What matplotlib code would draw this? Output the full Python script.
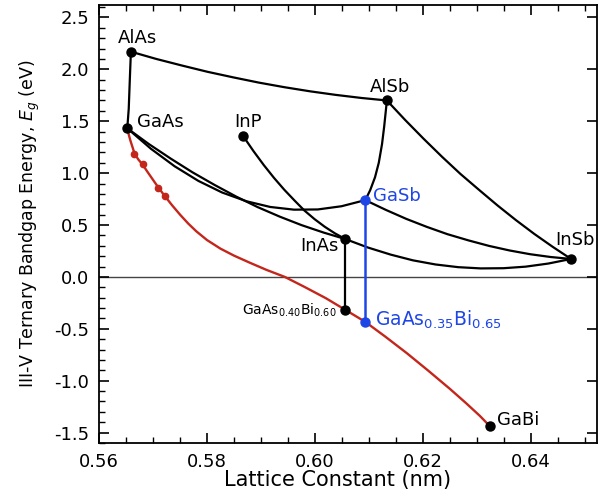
import matplotlib
matplotlib.use('Agg')
import matplotlib.pyplot as plt
from matplotlib.ticker import MultipleLocator, FormatStrFormatter

plt.rcParams['font.family'] = ['DejaVu Sans']
plt.rcParams['mathtext.fontset'] = 'dejavusans'
plt.rcParams['axes.unicode_minus'] = False

# ---- compound end points (lattice constant nm, bandgap eV) ----
black_names = ['AlAs', 'GaAs', 'AlSb', 'InP', 'InAs', 'InSb', 'GaAs040Bi060', 'GaBi']
black_a = [0.5659, 0.5652, 0.6133, 0.5867, 0.6056, 0.6474, 0.6056, 0.6324]
black_e = [2.170, 1.433, 1.700, 1.356, 0.365, 0.173, -0.317, -1.440]

blue_names = ['GaSb', 'GaAs035Bi065']
blue_a = [0.6093, 0.6093]
blue_e = [0.740, -0.433]

# ---- ternary curves ----
alas_gaas_a = [0.5659, 0.5657, 0.5655, 0.5653, 0.5652]
alas_gaas_e = [2.170, 1.900, 1.620, 1.480, 1.433]

alas_alsb_a = [0.5659, 0.5706, 0.5754, 0.5801, 0.5849, 0.5896, 0.5943, 0.5991, 0.6038, 0.6086, 0.6133]
alas_alsb_e = [2.170, 2.100, 2.036, 1.976, 1.922, 1.872, 1.828, 1.788, 1.754, 1.724, 1.700]

alsb_gasb_a = [0.6133, 0.6131, 0.6128, 0.6124, 0.6118, 0.6111, 0.6102, 0.6093]
alsb_gasb_e = [1.700, 1.600, 1.450, 1.280, 1.100, 0.960, 0.835, 0.740]

alsb_insb_a = [0.6133, 0.6167, 0.6201, 0.6235, 0.6269, 0.6304, 0.6338, 0.6372, 0.6406, 0.6440, 0.6474]
alsb_insb_e = [1.700, 1.511, 1.331, 1.158, 0.993, 0.837, 0.688, 0.547, 0.414, 0.290, 0.173]

gasb_insb_a = [0.6093, 0.6131, 0.6169, 0.6207, 0.6245, 0.6284, 0.6322, 0.6360, 0.6398, 0.6436, 0.6474]
gasb_insb_e = [0.740, 0.646, 0.559, 0.482, 0.412, 0.352, 0.299, 0.255, 0.219, 0.192, 0.173]

inas_insb_a = [0.6056, 0.6098, 0.6140, 0.6181, 0.6223, 0.6265, 0.6307, 0.6349, 0.6390, 0.6432, 0.6474]
inas_insb_e = [0.365, 0.283, 0.215, 0.160, 0.120, 0.094, 0.082, 0.084, 0.099, 0.129, 0.173]

gaas_inas_a = [0.5652, 0.5692, 0.5733, 0.5773, 0.5814, 0.5854, 0.5894, 0.5935, 0.5975, 0.6016, 0.6056]
gaas_inas_e = [1.433, 1.281, 1.139, 1.008, 0.886, 0.774, 0.672, 0.580, 0.499, 0.427, 0.365]

gaas_gasb_a = [0.5652, 0.5696, 0.5740, 0.5784, 0.5828, 0.5873, 0.5917, 0.5961, 0.6005, 0.6049, 0.6093]
gaas_gasb_e = [1.433, 1.235, 1.066, 0.925, 0.813, 0.729, 0.674, 0.648, 0.650, 0.681, 0.740]

inp_inas_a = [0.5867, 0.5886, 0.5905, 0.5924, 0.5943, 0.5962, 0.5980, 0.5999, 0.6018, 0.6037, 0.6056]
inp_inas_e = [1.356, 1.212, 1.078, 0.954, 0.840, 0.736, 0.641, 0.557, 0.483, 0.419, 0.365]

gaasbi_a = [0.5652, 0.5655, 0.5658, 0.5662, 0.5666, 0.5673, 0.5681, 0.5690, 0.5700, 0.5710,
            0.5722, 0.5735, 0.5750, 0.5765, 0.5780, 0.5800, 0.5825, 0.5850, 0.5880, 0.5910,
            0.5944, 0.5980, 0.6020, 0.6056, 0.6093, 0.6130, 0.6170, 0.6210, 0.6250, 0.6280,
            0.6305, 0.6324]
gaasbi_e = [1.433, 1.372, 1.315, 1.250, 1.185, 1.130, 1.080, 1.010, 0.935, 0.860,
            0.778, 0.692, 0.600, 0.515, 0.440, 0.355, 0.272, 0.205, 0.135, 0.068,
            0.000, -0.095, -0.205, -0.317, -0.433, -0.575, -0.735, -0.905, -1.080, -1.218,
            -1.338, -1.440]

gaasbi_dots_a = [0.56654, 0.56809, 0.57098, 0.57222]
gaasbi_dots_e = [1.189, 1.087, 0.859, 0.779]

# vertical connectors
inas_drop_a = [0.6056, 0.6056]
inas_drop_e = [0.365, -0.317]
gasb_drop_a = [0.6093, 0.6093]
gasb_drop_e = [0.740, -0.433]

xticks = [0.56, 0.58, 0.60, 0.62, 0.64]
yticks = [-1.5, -1.0, -0.5, 0.0, 0.5, 1.0, 1.5, 2.0, 2.5]

RED = '#c3261b'
BLUE = '#1e46e6'

fig = plt.figure(figsize=(5.98, 4.95), dpi=100)
ax = fig.add_axes([0.1656, 0.10505, 0.8327, 0.8849])

ax.axhline(0.0, color='#444444', lw=1.0, zorder=1)

black_curves = [(alas_gaas_a, alas_gaas_e), (alas_alsb_a, alas_alsb_e), (alsb_gasb_a, alsb_gasb_e),
                (alsb_insb_a, alsb_insb_e), (gasb_insb_a, gasb_insb_e), (inas_insb_a, inas_insb_e),
                (gaas_inas_a, gaas_inas_e), (gaas_gasb_a, gaas_gasb_e), (inp_inas_a, inp_inas_e),
                (inas_drop_a, inas_drop_e)]
for xa, ye in black_curves:
    ax.plot(xa, ye, color='black', lw=1.6, zorder=3, solid_capstyle='round', solid_joinstyle='round')

ax.plot(gaasbi_a, gaasbi_e, color=RED, lw=1.7, zorder=2, solid_joinstyle='round')
ax.plot(gaasbi_dots_a, gaasbi_dots_e, 'o', color=RED, ms=4.5, zorder=3)
ax.plot(gasb_drop_a, gasb_drop_e, color=BLUE, lw=1.8, zorder=3)

ax.plot(black_a, black_e, 'o', color='black', ms=6.5, zorder=5)
ax.plot(blue_a, blue_e, 'o', color=BLUE, ms=6.5, zorder=5)

fs = 13
ax.text(0.56704, 2.298, 'AlAs', fontsize=fs, ha='center', va='center')
ax.text(0.56704, 1.490, 'GaAs', fontsize=fs, ha='left', va='center')
ax.text(0.58759, 1.490, 'InP', fontsize=fs, ha='center', va='center')
ax.text(0.61389, 1.827, 'AlSb', fontsize=fs, ha='center', va='center')
ax.text(0.61074, 0.779, 'GaSb', fontsize=fs, ha='left', va='center', color=BLUE)
ax.text(0.60444, 0.298, 'InAs', fontsize=fs, ha='right', va='center')
ax.text(0.64444, 0.356, 'InSb', fontsize=fs, ha='left', va='center')
ax.text(0.60407, -0.317, r'$\mathregular{GaAs_{0.40}Bi_{0.60}}$', fontsize=10, ha='right', va='center')
ax.text(0.61111, -0.413, r'$\mathregular{GaAs_{0.35}Bi_{0.65}}$', fontsize=13.5, ha='left', va='center', color=BLUE)
ax.text(0.6337, -1.375, 'GaBi', fontsize=fs, ha='left', va='center')

ax.set_xlim(0.56, 0.6522)
ax.set_ylim(-1.6, 2.62)
ax.set_xticks(xticks)
ax.set_yticks(yticks)
ax.xaxis.set_major_formatter(FormatStrFormatter('%.2f'))
ax.yaxis.set_major_formatter(FormatStrFormatter('%.1f'))
ax.xaxis.set_minor_locator(MultipleLocator(0.005))
ax.yaxis.set_minor_locator(MultipleLocator(0.1))
ax.tick_params(axis='both', which='major', direction='in', length=7, width=1.2, labelsize=13, pad=7)
ax.tick_params(axis='x', which='both', top=True)
ax.tick_params(axis='y', which='major', right=True)
ax.tick_params(axis='both', which='minor', direction='in', length=4, width=1.0)
ax.tick_params(axis='y', which='minor', right=False)
for s in ax.spines.values():
    s.set_linewidth(1.3)

ax.set_xlabel('Lattice Constant (nm)', fontsize=15)
ax.xaxis.set_label_coords(0.48, -0.062)
ax.set_ylabel(r'III-V Ternary Bandgap Energy, $E_g$ (eV)', fontsize=12.5, labelpad=9)

fig.savefig('out.png', dpi=100)
